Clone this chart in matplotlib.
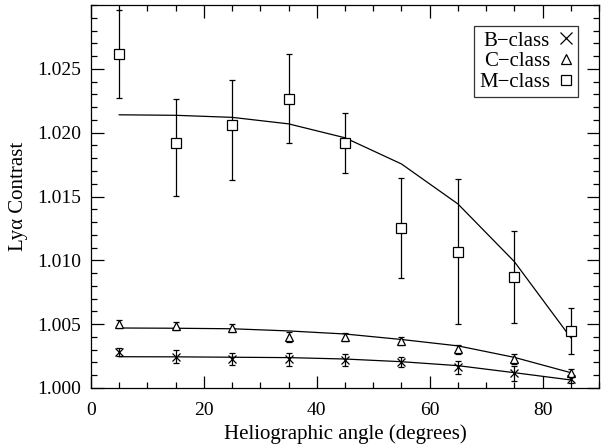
import matplotlib
matplotlib.use("Agg")
import matplotlib.pyplot as plt
from matplotlib.ticker import MultipleLocator, FormatStrFormatter
from matplotlib.lines import Line2D

plt.rcParams['font.family'] = ['Liberation Serif', 'DejaVu Serif']

angles = [5, 15, 25, 35, 45, 55, 65, 75, 85]

# B-class
b_vals = [1.00280, 1.00245, 1.00227, 1.00225, 1.00220, 1.00206, 1.00162, 1.00115, 1.00068]
b_err = [0.0003, 0.0005, 0.0005, 0.0005, 0.0005, 0.0004, 0.0005, 0.0006, 0.0003]
b_fit = [1.00245, 1.00244, 1.00241, 1.00238, 1.00227, 1.00206, 1.00175, 1.00120, 1.00063]

# C-class
c_vals = [1.00502, 1.00486, 1.00468, 1.00402, 1.00397, 1.00368, 1.00303, 1.00227, 1.00120]
c_err = [0.0003, 0.0003, 0.0003, 0.0004, 0.0003, 0.0003, 0.00035, 0.0004, 0.0003]
c_fit = [1.00470, 1.00468, 1.00464, 1.00447, 1.00423, 1.00380, 1.00330, 1.00240, 1.00120]

# M-class
m_vals = [1.02618, 1.01920, 1.02061, 1.02265, 1.01920, 1.01252, 1.01068, 1.00872, 1.00447]
m_hi = [1.02957, 1.02266, 1.02414, 1.02618, 1.02155, 1.01643, 1.01636, 1.01233, 1.00625]
m_lo = [1.02273, 1.01505, 1.01630, 1.01920, 1.01685, 1.00864, 1.00502, 1.00507, 1.00267]
m_fit = [1.02140, 1.02136, 1.02120, 1.02069, 1.01960, 1.01755, 1.01442, 1.00990, 1.00394]

fig = plt.figure(figsize=(6.04, 4.47), dpi=100)
ax = fig.add_axes([0.1507, 0.132, 0.8410, 0.8568])

ekw = dict(ecolor='black', elinewidth=0.9, capsize=2.5, capthick=0.9, linestyle='none')

m_yerr = [[v - l for v, l in zip(m_vals, m_lo)], [h - v for v, h in zip(m_vals, m_hi)]]
ax.errorbar(angles, m_vals, yerr=m_yerr, marker='s', markersize=7, mfc='white',
            mec='black', mew=0.9, **ekw)
ax.errorbar(angles, c_vals, yerr=c_err, marker='^', markersize=5.5, mfc='white',
            mec='black', mew=0.9, **ekw)
ax.errorbar(angles, b_vals, yerr=b_err, marker='x', markersize=5.5, mfc='none',
            mec='black', mew=0.9, **ekw)

ax.plot(angles, m_fit, color='black', lw=0.9)
ax.plot(angles, c_fit, color='black', lw=0.9)
ax.plot(angles, b_fit, color='black', lw=0.9)

ax.set_xlim(0, 90)
ax.set_ylim(1.000, 1.030)
ax.xaxis.set_major_locator(MultipleLocator(20))
ax.xaxis.set_minor_locator(MultipleLocator(5))
ax.yaxis.set_major_locator(MultipleLocator(0.005))
ax.yaxis.set_minor_locator(MultipleLocator(0.001))
ax.yaxis.set_major_formatter(FormatStrFormatter('%.3f'))
ax.set_yticks([1.000, 1.005, 1.010, 1.015, 1.020, 1.025])
ax.tick_params(which='both', direction='in', top=True, right=True, labelsize=14, width=0.9)
ax.tick_params(which='major', length=9)
ax.tick_params(which='minor', length=4.5)
ax.xaxis.set_tick_params(which='major', pad=10)
ax.yaxis.set_tick_params(which='major', pad=7)
for s in ax.spines.values():
    s.set_linewidth(0.9)

ax.set_xlabel('Heliographic angle (degrees)', fontsize=15, labelpad=4)
ax.set_ylabel('Ly\u03b1 Contrast', fontsize=15, labelpad=7)

handles = [
    Line2D([], [], marker='x', color='black', linestyle='none', markersize=8, mew=0.9),
    Line2D([], [], marker='^', color='black', mfc='white', linestyle='none', markersize=7.5, mew=0.9),
    Line2D([], [], marker='s', color='black', mfc='white', linestyle='none', markersize=7.5, mew=0.9),
]
leg = ax.legend(handles, ['B\u2212class', 'C\u2212class', 'M\u2212class'], loc='upper right',
                markerfirst=False, fontsize=15, frameon=True, fancybox=False,
                handlelength=0.7, handletextpad=0.4, borderpad=0.25, labelspacing=0.05,
                borderaxespad=1.0)
leg.get_frame().set_edgecolor('black')
leg.get_frame().set_linewidth(0.9)

fig.savefig('out.png', dpi=100)
